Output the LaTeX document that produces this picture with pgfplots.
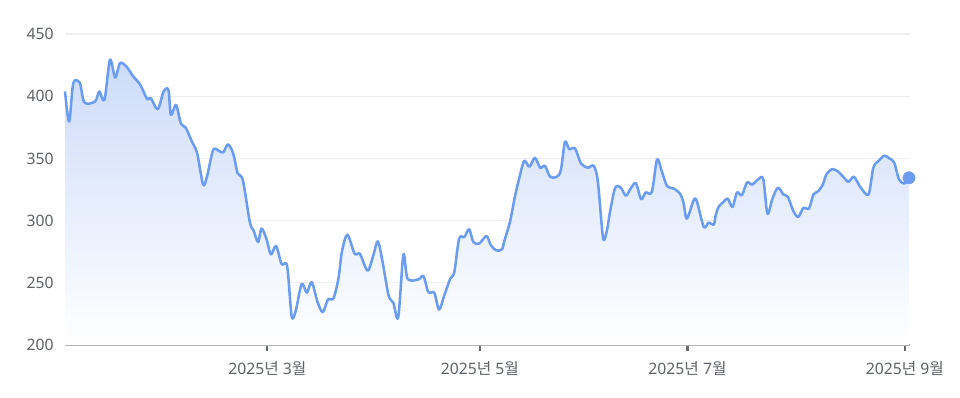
\documentclass[border=0pt]{standalone}
\usepackage{pgfplots}
\pgfplotsset{compat=1.18}
\usepackage{pgfplotstable}
\usepackage{fontspec}
\setmainfont{Noto Sans}
\newfontfamily\krfont{Noto Sans CJK KR}

\definecolor{lineblue}{RGB}{108,156,240}
\definecolor{fillblue}{RGB}{204,219,249}
\definecolor{labelgray}{RGB}{95,99,104}
\definecolor{gridgray}{RGB}{238,239,241}
\definecolor{axisgray}{RGB}{170,172,175}
\definecolor{tickgray}{RGB}{100,104,108}

% closing price by day of year (day 0 = 1 Jan 2025)
\pgfplotstableread{
day price
0.0 403.8
1.2 379.6
2.4 410.5
4.3 410.5
5.6 395.0
8.7 395.7
9.9 403.8
11.4 397.0
13.0 429.3
14.5 415.0
15.9 426.6
17.7 424.0
19.7 416.0
21.8 409.0
23.7 397.8
24.8 398.4
26.8 389.5
28.5 403.8
29.9 405.0
30.6 385.0
32.1 393.0
33.5 378.0
34.9 374.7
36.7 363.4
38.2 354.0
39.9 329.0
41.0 335.0
42.8 356.7
44.4 356.2
45.7 354.8
47.1 361.3
48.6 354.0
49.9 338.0
51.4 332.5
53.4 299.0
54.5 292.0
55.8 282.8
56.8 293.6
58.2 285.5
59.5 272.9
61.0 279.6
62.6 265.0
64.2 263.4
65.5 223.1
66.7 227.7
68.4 249.2
69.9 242.0
71.3 250.5
73.0 234.4
74.5 226.4
76.0 236.6
77.6 237.6
79.1 254.6
80.0 274.7
81.6 288.7
83.7 273.4
85.2 273.4
86.8 262.6
87.7 260.0
89.1 272.0
90.4 283.3
91.7 268.0
93.5 240.0
94.9 233.9
96.3 222.3
97.8 272.6
99.0 253.2
102.1 252.7
103.6 255.4
105.0 242.5
106.7 242.0
108.1 228.5
109.6 239.8
111.3 253.2
112.5 258.6
113.9 285.5
115.4 286.8
116.8 293.0
118.0 282.8
119.7 281.5
121.8 287.6
123.1 280.0
124.7 276.0
126.3 277.0
127.0 284.0
128.6 299.0
130.1 320.4
131.2 333.3
132.7 348.0
134.2 343.3
135.8 350.5
137.3 342.5
138.7 344.0
140.2 335.2
142.1 335.2
143.3 340.6
144.5 363.4
145.7 357.5
147.4 358.0
149.1 346.0
151.1 342.5
152.8 344.0
154.0 331.2
155.5 286.0
156.6 292.0
157.5 307.0
159.0 326.4
160.6 326.6
162.1 320.0
163.6 326.4
165.0 330.0
166.5 317.2
167.8 322.6
169.6 323.1
171.1 349.2
172.5 339.3
174.0 327.7
175.9 325.8
177.7 321.8
178.7 315.0
179.7 301.6
181.7 316.4
182.6 315.6
184.6 294.9
186.0 298.4
187.5 296.8
188.1 305.0
189.0 311.5
190.3 315.0
191.5 317.7
192.9 311.0
194.2 322.6
195.6 320.4
197.1 330.6
198.6 329.0
200.4 333.3
201.8 333.3
203.0 305.6
204.4 317.2
206.0 326.4
207.6 321.0
208.9 319.1
210.5 307.6
211.9 303.0
213.4 310.2
215.0 309.7
216.3 321.0
217.7 323.7
219.0 329.0
220.1 337.5
221.8 341.4
223.5 339.3
224.9 335.2
226.4 331.2
228.0 335.2
229.8 327.2
232.2 321.0
233.6 342.5
235.1 347.9
236.8 352.2
238.2 350.0
239.6 346.8
241.0 333.3
242.5 329.8
243.9 334.4
}\pricedata

\begin{document}
\begin{tikzpicture}[x=1pt,y=1pt]
\begin{axis}[
  at={(0,0)}, anchor=south west,
  scale only axis,
  width=633.75pt, height=233.25pt,
  xmin=0, xmax=244.2,
  ymin=200, ymax=450,
  clip=false,
  axis x line*=bottom,
  axis y line*=left,
  y axis line style={draw=none},
  x axis line style={draw=axisgray, line width=1.2pt},
  xtick={58.5,119.9,179.9,242.7},
  xticklabels={2025{\krfont 년} 3{\krfont 월},2025{\krfont 년} 5{\krfont 월},2025{\krfont 년} 7{\krfont 월},2025{\krfont 년} 9{\krfont 월}},
  xtick align=outside,
  major tick length=4.5pt,
  xtick style={draw=tickgray, line width=1.6pt},
  ytick={200,250,300,350,400,450},
  ytick style={draw=none},
  ymajorgrids,
  grid style={draw=gridgray, line width=0.8pt},
  /pgf/number format/assume math mode=true,
  tick label style={font=\fontsize{11.8}{13.5}\selectfont, text=labelgray},
  xticklabel style={yshift=-4pt},
  yticklabel style={xshift=-5pt},
]
\addplot[draw=none, top color=fillblue, bottom color=white, smooth]
  table[x=day, y=price]{\pricedata} \closedcycle;
\addplot[lineblue, line width=1.9pt, smooth, line join=round]
  table[x=day, y=price]{\pricedata};
\addplot[only marks, mark=*, mark size=4.6pt, color=lineblue]
  coordinates {(243.9,334.4)};
\end{axis}
\useasboundingbox (-48.75pt,-39pt) rectangle (671.25pt,258.75pt);
\end{tikzpicture}
\end{document}
